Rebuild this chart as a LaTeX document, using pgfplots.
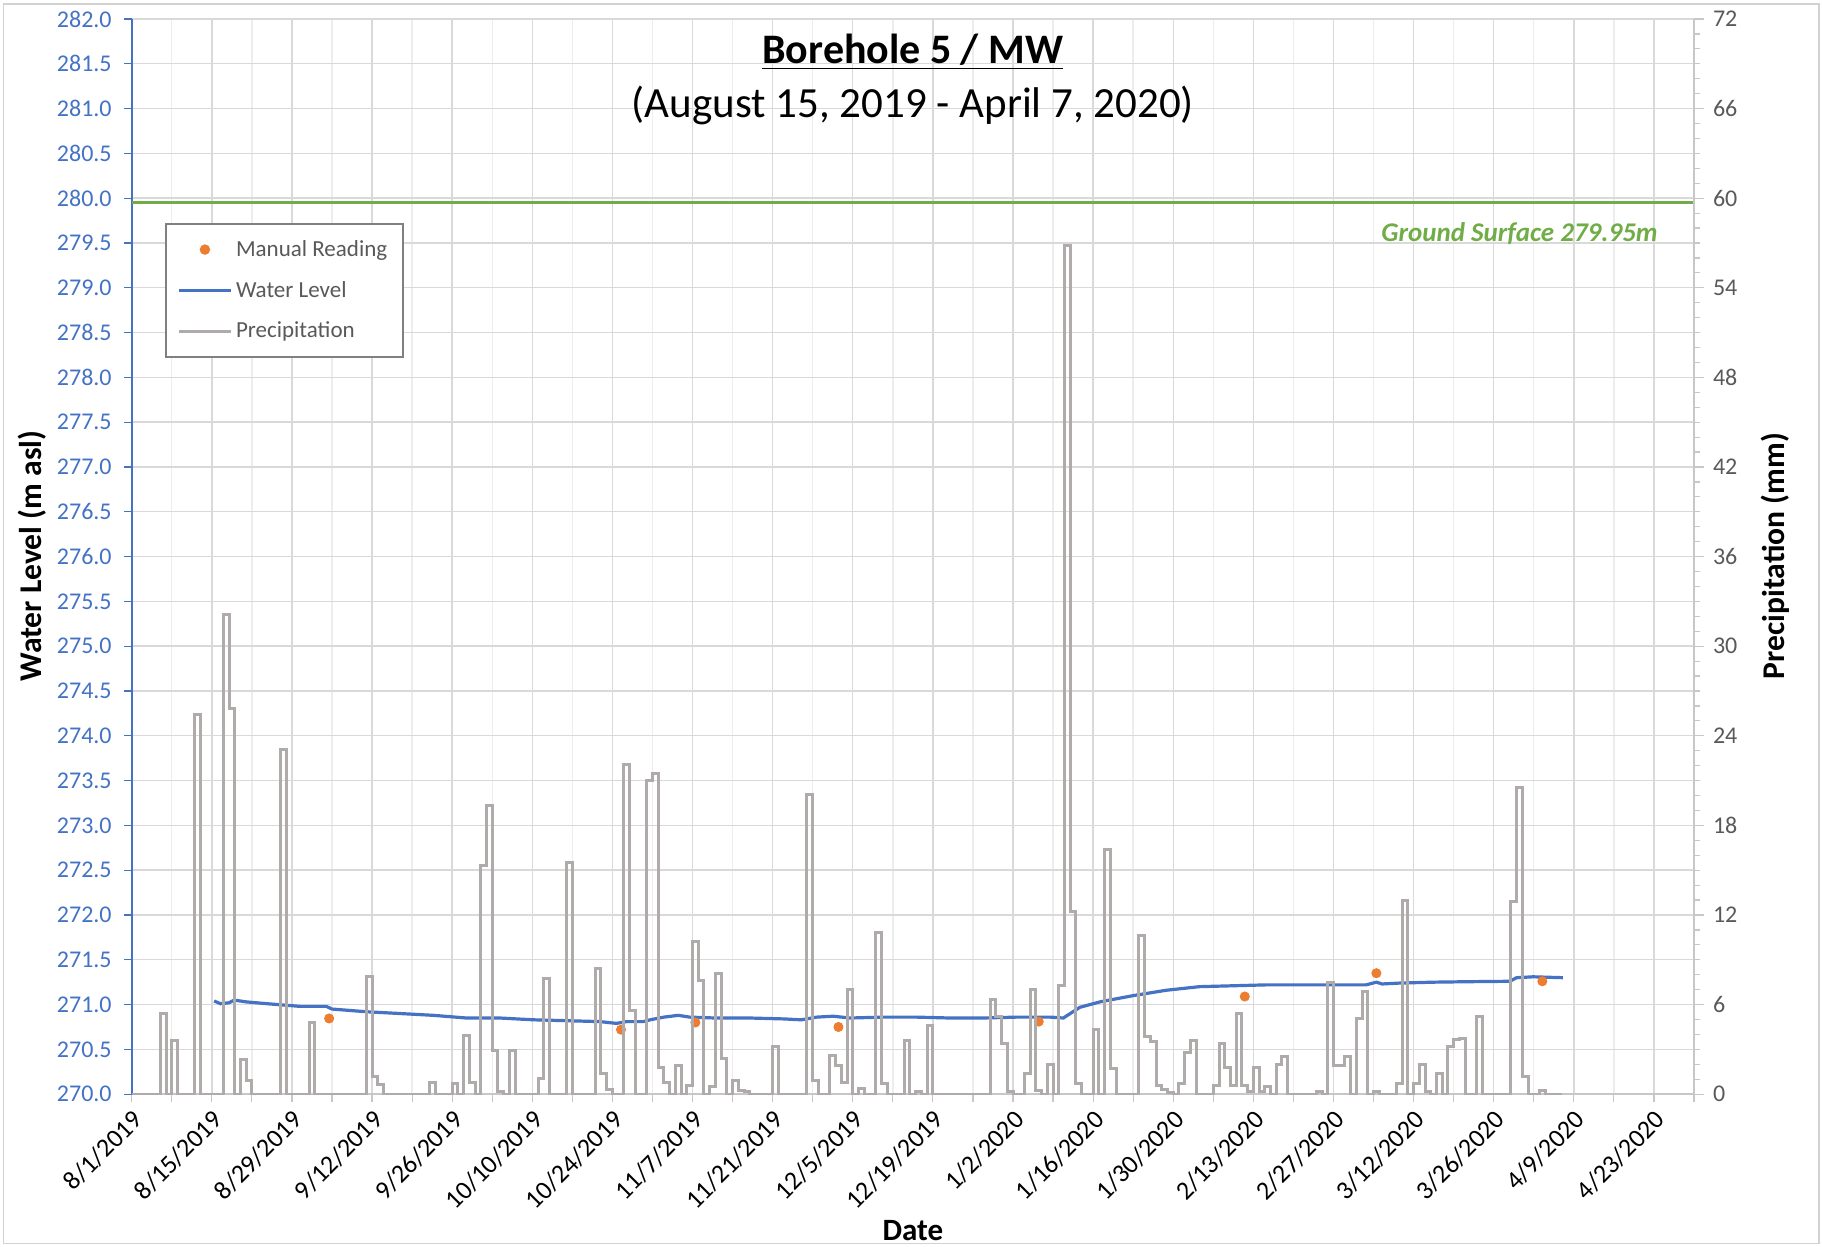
\documentclass[border=0pt]{standalone}
\usepackage{fontspec}
\setmainfont{Carlito}
\usepackage{pgfplots}
\pgfplotsset{compat=1.18}

\definecolor{wlblue}{HTML}{4472C4}
\definecolor{mrorange}{HTML}{ED7D31}
\definecolor{prgray}{HTML}{AFABAB}
\definecolor{gsgreen}{HTML}{70AD47}
\definecolor{gridmaj}{HTML}{D9D9D9}
\definecolor{gridmin}{HTML}{EDEDED}
\definecolor{txtgray}{HTML}{595959}

\pgfplotsset{
  common/.style={
    scale only axis, width=781pt, height=537.5pt,
    at={(0,0)}, anchor=south west,
    xmin=0, xmax=273,
    /pgf/number format/assume math mode=true,
    tick align=outside,
    ticklabel style={font=\fontsize{12}{14}\selectfont},
  },
}

\begin{document}
\begin{tikzpicture}
\useasboundingbox (-65.85pt,-76pt) rectangle (845pt,547pt);
\draw[gray!35, line width=0.6pt] (-64pt,-74.5pt) rectangle (843.5pt,545pt);

% water level, primary axis
\begin{axis}[common,
  ymin=270, ymax=282,
  axis y line*=left, axis x line*=bottom,
  y axis line style={wlblue, line width=0.8pt},
  x axis line style={gridmaj!80!gray, line width=0.8pt},
  ytick distance=0.5,
  yticklabel style={text=wlblue, xshift=-2.5pt, /pgf/number format/.cd, fixed, fixed zerofill, precision=1},
  y tick style={wlblue, line width=0.6pt},
  major tick length=4pt, minor tick length=4pt,
  xtick={0,14,...,266},
  minor xtick={7,21,...,273},
  x tick style={gridmaj!80!gray, line width=0.6pt},
  xticklabels={8/1/2019,8/15/2019,8/29/2019,9/12/2019,9/26/2019,10/10/2019,10/24/2019,11/7/2019,11/21/2019,12/5/2019,12/19/2019,1/2/2020,1/16/2020,1/30/2020,2/13/2020,2/27/2020,3/12/2020,3/26/2020,4/9/2020,4/23/2020},
  xticklabel style={rotate=45, anchor=east, yshift=-7pt, xshift=1pt, font=\fontsize{13}{15}\selectfont},
  xmajorgrids, xminorgrids, ymajorgrids,
  major grid style={gridmaj, line width=0.7pt},
  minor grid style={gridmin, line width=0.7pt},
  legend image code/.code={\draw[mark repeat=2,mark phase=2,#1] plot coordinates {(0cm,0cm) (0.45cm,0cm) (0.9cm,0cm)};},
  legend style={at={(0.0213,0.81)}, anchor=north west, draw=gray, line width=0.8pt,
    font=\fontsize{11.5}{13}\selectfont, text=txtgray, row sep=7pt, inner xsep=6pt, inner ysep=6pt,
    legend cell align=left},
]
\addlegendimage{only marks, mark=*, mark size=2.2pt, mrorange}
\addlegendentry{Manual Reading}
\addlegendimage{wlblue, line width=1.5pt}
\addlegendentry{Water Level}
\addlegendimage{prgray, line width=1.5pt}
\addlegendentry{Precipitation}

\addplot[gsgreen, line width=1.5pt, forget plot] coordinates {(0,279.95) (273,279.95)};

\addplot[wlblue, line width=1.6pt, forget plot] coordinates {
(14.4,271.04) (15.5,271.01) (17,271.02) (17.9,271.05) (20,271.03) (23.6,271.01)
(29.4,270.98) (34,270.98) (35,270.95) (41,270.92) (46.9,270.90) (52.7,270.88)
(58.5,270.85) (64.3,270.85) (70.2,270.83) (76,270.82) (81.8,270.81) (84.7,270.79)
(86.5,270.81) (89.4,270.81) (90.6,270.83) (93,270.86) (95.5,270.88) (97.5,270.86)
(102,270.85) (108,270.85) (113.9,270.84) (117,270.83) (119.7,270.86) (122.6,270.87)
(125.5,270.85) (131.3,270.86) (137.1,270.86) (143,270.85) (148.8,270.85) (154.6,270.86)
(160.5,270.86) (162.8,270.85) (164,270.9) (165.7,270.97) (169.2,271.03) (175,271.1)
(180.8,271.16) (186.6,271.2) (192.5,271.21) (198.3,271.22) (204.1,271.22) (209.9,271.22)
(215.7,271.22) (217.5,271.25) (218.5,271.23) (221.6,271.24) (227.4,271.25) (233.2,271.255)
(240.8,271.26) (242,271.3) (244.9,271.31) (250.1,271.30)
};

\addplot[only marks, mark=*, mark size=2.3pt, mrorange, forget plot] coordinates {
(34.5,270.845) (85.5,270.72) (98.5,270.80) (123.5,270.75) (158.5,270.81)
(194.5,271.09) (217.5,271.35) (246.5,271.26)
};

\node[anchor=east, text=gsgreen, font=\fontsize{13.5}{15}\selectfont\bfseries\itshape]
  at (axis cs:267.9,279.6) {Ground Surface 279.95m};
\end{axis}

% precipitation, secondary axis
\begin{axis}[common,
  ymin=0, ymax=72,
  axis y line*=right, axis x line=none,
  y axis line style={gridmaj!80!gray, line width=0.8pt},
  ytick distance=6, minor y tick num=5,
  yticklabel style={text=txtgray, xshift=1pt},
  y tick style={gridmaj!80!gray, line width=0.6pt},
  major tick length=5pt, minor tick length=3pt,
]
\addplot[const plot, prgray, line width=1.5pt] coordinates {
(0,0) (5,5.4) (6,0) (7,3.6) (8,0) (11,25.4) (12,0) (16,32.1) (17,25.8) (18,0)
(19,2.3) (20,0.9) (21,0) (26,23.1) (27,0) (31,4.8) (32,0) (41,7.9) (42,1.2)
(43,0.65) (44,0) (52,0.8) (53,0) (56,0.7) (57,0) (58,3.9) (59,0.8) (60,0)
(61,15.3) (62,19.3) (63,2.95) (64,0.2) (65,0) (66,2.95) (67,0) (71,1.05)
(72,7.75) (73,0) (76,15.5) (77,0) (81,8.4) (82,1.4) (83,0.3) (84,0) (86,22.1)
(87,5.6) (88,0) (90,21.0) (91,21.5) (92,1.8) (93,0.8) (94,0) (95,1.9) (96,0)
(97,0.6) (98,10.2) (99,7.6) (100,0) (101,0.5) (102,8.1) (103,2.4) (104,0)
(105,0.9) (106,0.25) (107,0.15) (108,0) (112,3.2) (113,0) (118,20.1) (119,0.9)
(120,0) (122,2.6) (123,1.9) (124,0.75) (125,7.0) (126,0) (127,0.4) (128,0)
(130,10.8) (131,0.7) (132,0) (135,3.6) (136,0) (137,0.2) (138,0) (139,4.6)
(140,0) (150,6.35) (151,5.2) (152,3.4) (153,0.2) (154,0) (156,1.4) (157,7.0)
(158,0.25) (159,0) (160,2.0) (161,0) (162,7.3) (163,56.8) (164,12.2) (165,0.7)
(166,0) (168,4.3) (169,0) (170,16.4) (171,1.7) (172,0) (176,10.6) (177,3.85)
(178,3.5) (179,0.55) (180,0.3) (181,0.1) (182,0) (183,0.7) (184,2.8) (185,3.6)
(186,0) (189,0.55) (190,3.4) (191,1.8) (192,0.55) (193,5.4) (194,0.55) (195,0.2)
(196,1.8) (197,0.2) (198,0.5) (199,0) (200,2.0) (201,2.5) (202,0) (207,0.2)
(208,0) (209,7.5) (210,1.9) (212,2.5) (213,0) (214,5.1) (215,6.85) (216,0)
(217,0.2) (218,0) (221,0.7) (222,12.95) (223,0) (224,0.7) (225,2.0) (226,0.2)
(227,0) (228,1.4) (229,0) (230,3.2) (231,3.65) (232,3.75) (233,0) (235,5.2)
(236,0) (241,12.9) (242,20.55) (243,1.2) (244,0) (246,0.25) (247,0) (250,0)
};
\end{axis}

% titles and axis labels
\node[font=\fontsize{21}{25}\selectfont\bfseries] at (390.5pt,521pt) {\underline{Borehole 5 / MW}};
\node[font=\fontsize{21.5}{25}\selectfont] at (390.5pt,494.5pt) {(August 15, 2019 - April 7, 2020)};
\node[rotate=90, font=\fontsize{15.8}{18}\selectfont\bfseries] at (-50pt,269pt) {Water Level (m asl)};
\node[rotate=90, font=\fontsize{15.8}{18}\selectfont\bfseries] at (821.4pt,269pt) {Precipitation (mm)};
\node[inner sep=0pt, font=\fontsize{15.5}{18}\selectfont\bfseries] at (390.5pt,-68pt) {Date};
\end{tikzpicture}
\end{document}
